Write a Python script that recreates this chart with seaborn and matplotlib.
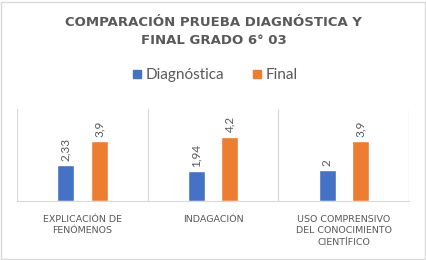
import matplotlib
matplotlib.use("Agg")
import matplotlib.pyplot as plt
from matplotlib.patches import Rectangle
from matplotlib.lines import Line2D
import pandas as pd
import seaborn as sb

# datos
competencias = ["EXPLICACIÓN DE\nFENÓMENOS", "INDAGACIÓN",
                "USO COMPRENSIVO\nDEL CONOCIMIENTO\nCIENTÍFICO"]
diagnostica = [2.33, 1.94, 2]
final = [3.9, 4.2, 3.9]
series = ["Diagnóstica", "Final"]
colores = ["#4472C4", "#ED7D31"]
titulo = "COMPARACIÓN PRUEBA DIAGNÓSTICA Y\nFINAL GRADO 6° 03"

df = pd.DataFrame({
    "competencia": competencias * 2,
    "valor": diagnostica + final,
    "prueba": [series[0]] * 3 + [series[1]] * 3,
})

sb.set_style("white")
plt.rcParams["font.family"] = ["Lato", "DejaVu Sans"]
gris = "#595959"

fig = plt.figure(figsize=(4.27, 2.60), dpi=100)
ax = fig.add_axes([0.040, 0.227, 0.918, 0.354])

sb.barplot(data=df, x="competencia", y="valor", hue="prueba", palette=colores,
           width=0.51, gap=0.49, ax=ax, legend=False, saturation=1)

for cont in ax.containers:
    etiquetas = [f"{b.get_height():g}".replace(".", ",") for b in cont]
    ax.bar_label(cont, labels=etiquetas, rotation=90, padding=3,
                 fontsize=8.5, color=gris)

ax.set_ylim(0, 6)
ax.set_xlim(-0.5, 2.5)
ax.set_yticks([])
ax.set_xlabel("")
ax.set_ylabel("")
for s in ["top", "right", "left"]:
    ax.spines[s].set_visible(False)
ax.spines["bottom"].set_color("#D9D9D9")
for xv in [-0.5, 0.5, 1.5, 2.5]:
    ax.axvline(xv, color="#D9D9D9", lw=0.9, zorder=0)
ax.tick_params(axis="x", length=0, pad=10, labelcolor=gris)
for t in ax.get_xticklabels():
    t.set_linespacing(1.35)
    t.set_fontfamily("DejaVu Sans")
    t.set_fontsize(6.8)

fig.text(0.5, 0.878, titulo, ha="center", va="center", fontsize=9.5,
         fontweight="bold", color=gris, linespacing=1.5, family="DejaVu Sans")

handles = [Line2D([], [], marker="s", ls="", color=c, markersize=6) for c in colores]
fig.legend(handles, series, loc="center", bbox_to_anchor=(0.5, 0.71), ncol=2,
           frameon=False, fontsize=11, labelcolor=gris, handletextpad=0.1,
           columnspacing=1.6, handlelength=1.0)

fig.patches.append(Rectangle((0.002, 0.004), 0.994, 0.99, transform=fig.transFigure,
                             fill=False, edgecolor="#D9D9D9", lw=1))

fig.savefig("out.png", dpi=100)
